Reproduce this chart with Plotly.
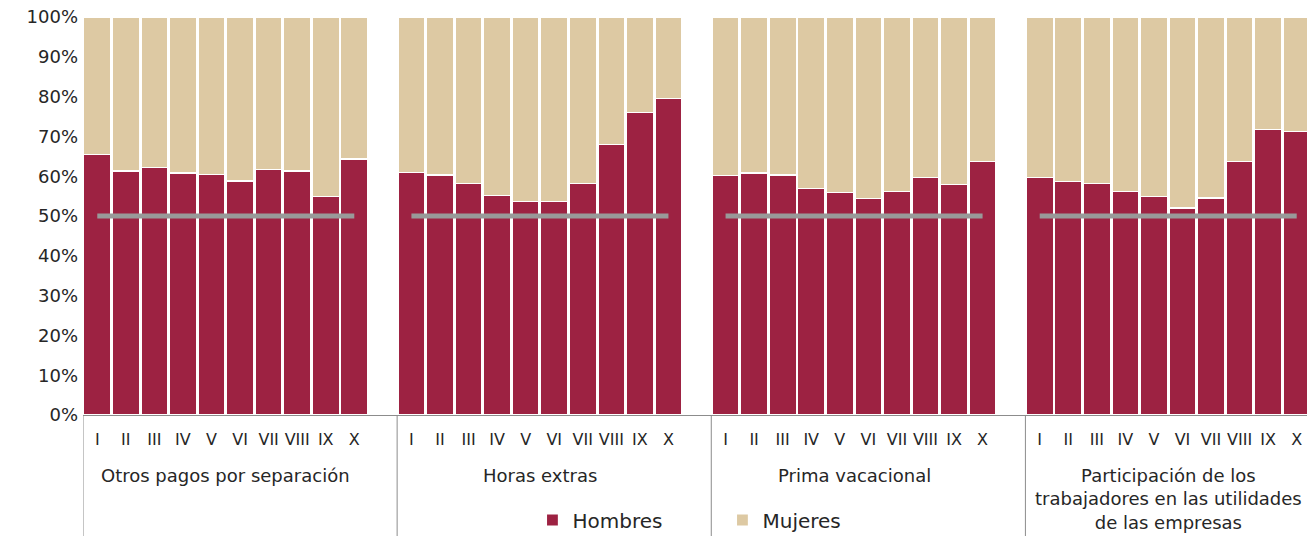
import plotly.graph_objects as go

# Conceptos (grupos) y meses (I..X)
conceptos = [
    'Otros pagos por separación',
    'Horas extras',
    'Prima vacacional',
    'Participación de los<br>trabajadores en las utilidades<br>de las empresas',
]
meses = ['I', 'II', 'III', 'IV', 'V', 'VI', 'VII', 'VIII', 'IX', 'X']

# Participación de hombres (%) por concepto
hombres_otros = [65.5, 61.3, 62.2, 60.8, 60.5, 58.8, 61.6, 61.3, 55.0, 64.3]
hombres_horas = [60.9, 60.3, 58.2, 55.1, 53.6, 53.6, 58.2, 68.0, 76.0, 79.6]
hombres_prima = [60.2, 60.8, 60.3, 57.0, 56.0, 54.4, 56.2, 59.7, 57.9, 63.7]
hombres_ptu = [59.7, 58.7, 58.2, 56.1, 55.0, 52.0, 54.5, 63.7, 71.8, 71.3]

referencia = 50
y_ticks = list(range(0, 101, 10))

RED = '#9D2242'
BEIGE = '#DDC9A3'
GREY_LINE = '#999999'
FONT = 'DejaVu Sans'
TEXT = '#262626'

series_h = [hombres_otros, hombres_horas, hombres_prima, hombres_ptu]

# numeric positions: 10 bars per group, one empty slot between groups
xs, hom, muj, ticktext = [], [], [], []
ref_x, ref_y = [], []
centers = []
for g, vals in enumerate(series_h):
    base = g * (len(meses) + 1)
    pos = [base + i for i in range(len(meses))]
    xs += pos
    hom += vals
    muj += [100 - v for v in vals]
    ticktext += meses
    ref_x += [pos[0], pos[-1], None]
    ref_y += [referencia, referencia, None]
    centers.append((pos[0] + pos[-1]) / 2)

fig = go.Figure()
fig.add_trace(go.Bar(
    x=xs, y=hom, name='Hombres',
    marker=dict(color=RED, line=dict(color='white', width=1.2)),
))
fig.add_trace(go.Bar(
    x=xs, y=muj, name='Mujeres',
    marker=dict(color=BEIGE, line=dict(color='white', width=1.2)),
))
fig.add_trace(go.Scatter(
    x=ref_x, y=ref_y, mode='lines',
    line=dict(color=GREY_LINE, width=5),
    showlegend=False, hoverinfo='skip',
))

n_slots = len(series_h) * (len(meses) + 1) - 1
# page body has an 8px margin, so the figure is drawn 8px smaller
W, H = 1307, 528
M_L, M_R, M_T, M_B = 75, 4, 9, 121
plot_h = H - M_T - M_B

# group separators below the axis
for g in range(len(series_h)):
    x0 = g * (len(meses) + 1) - 0.5
    fig.add_shape(
        type='line', xref='x', yref='paper',
        x0=x0, x1=x0, y0=0, y1=-M_B / plot_h,
        line=dict(color='#8c8c8c', width=1),
    )

for c, label in zip(centers, conceptos):
    fig.add_annotation(
        x=c, y=-48 / plot_h, xref='x', yref='paper',
        text=label, showarrow=False, yanchor='top',
        font=dict(family=FONT, size=18, color=TEXT),
    )

fig.update_layout(
    barmode='stack',
    bargap=0.06,
    width=W, height=H,
    margin=dict(l=M_L, r=M_R, t=M_T, b=M_B, autoexpand=False),
    plot_bgcolor='white',
    paper_bgcolor='white',
    font=dict(family=FONT, size=17, color=TEXT),
    legend=dict(
        orientation='h',
        traceorder='normal',
        x=0.366, xanchor='left',
        y=-105 / plot_h, yanchor='middle',
        font=dict(size=20, color=TEXT),
        bgcolor='rgba(0,0,0,0)',
        entrywidth=145,
        itemwidth=30,
    ),
    xaxis=dict(
        range=[-0.5, n_slots - 0.5],
        tickmode='array', tickvals=xs, ticktext=ticktext,
        showline=True, linecolor='#8c8c8c', linewidth=1,
        ticks='', showgrid=False, zeroline=False,
        ticklabelstandoff=10,
        tickfont=dict(size=16, color=TEXT),
        automargin=False,
    ),
    yaxis=dict(
        range=[0, 100],
        tickmode='array', tickvals=y_ticks,
        ticktext=[f'{v}%' for v in y_ticks],
        showgrid=False, zeroline=False, showline=False,
        tickfont=dict(size=18, color=TEXT),
        ticklabelstandoff=4,
        ticklabeloverflow='allow',
        automargin=False,
    ),
)

fig.write_html('out.html')
